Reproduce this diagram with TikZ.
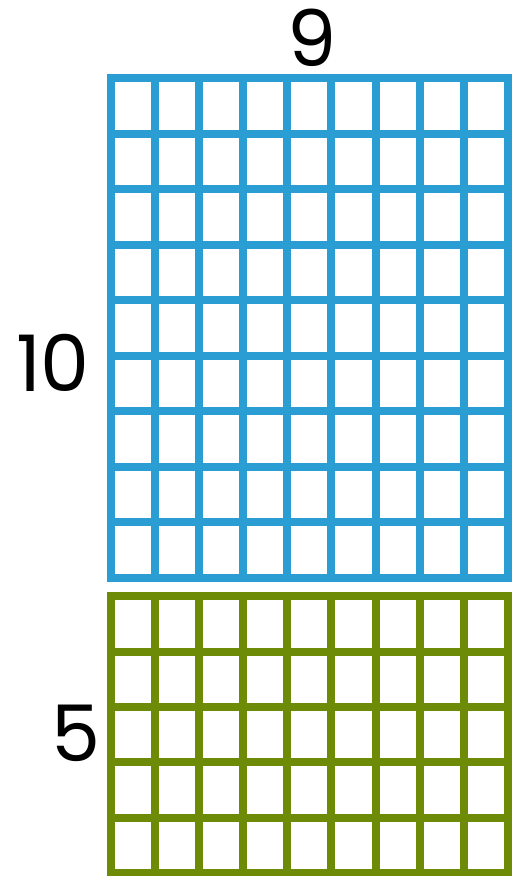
\documentclass[tikz,border=0pt]{standalone}
\usepackage{fontspec}
\setmainfont{Poppins}
\usepackage{tikz}
\usetikzlibrary{positioning}
\definecolor{tengrid}{HTML}{2A9ED2}
\definecolor{fivegrid}{HTML}{6E8B08}

\begin{document}
\begin{tikzpicture}[x=1pt, y=-1pt, every node/.style={inner sep=0pt}]
    \useasboundingbox (0,0) rectangle (512,876);
    % Upper block
    \foreach \i in {0,...,9}
      \draw[tengrid, line width=8pt, line cap=rect] ({110.7+44.14*\i},78.3) -- ({110.7+44.14*\i},577.5);
    \foreach \j in {0,...,9}
      \draw[tengrid, line width=8pt, line cap=rect] (110.7,{78.3+55.47*\j}) -- (508,{78.3+55.47*\j});
    % Lower block
    \foreach \i in {0,...,9}
      \draw[fivegrid, line width=8pt, line cap=rect] ({110.7+44.14*\i},596.2) -- ({110.7+44.14*\i},873);
    \foreach \j in {0,...,5}
      \draw[fivegrid, line width=8pt, line cap=rect] (110.7,{596.2+55.36*\j}) -- (508,{596.2+55.36*\j});
    % Labels
    \node (cols) at (312,38) {\fontsize{78}{78}\selectfont 9};
    \node (rows) at (53,363) {\fontsize{78}{78}\selectfont 10};
    \node (extra) at (76,733) {\fontsize{78}{78}\selectfont 5};
\end{tikzpicture}
\end{document}
